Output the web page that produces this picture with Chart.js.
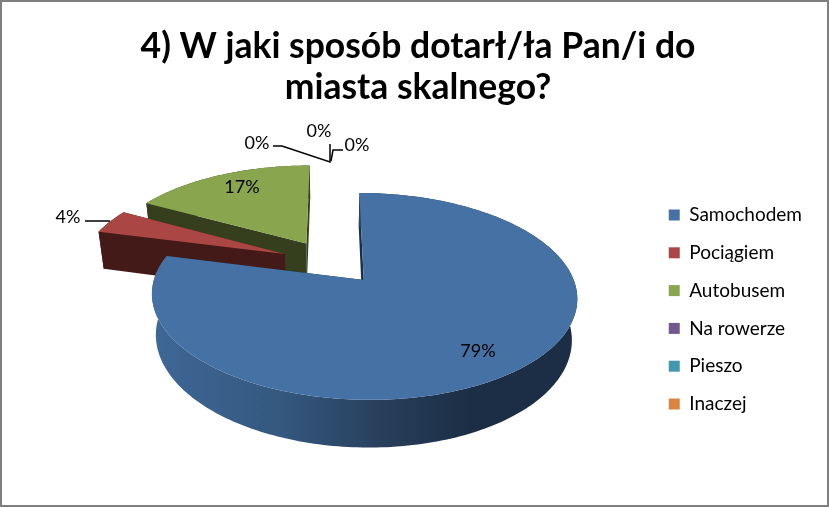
<!DOCTYPE html>
<html lang="pl">
<head>
    <meta charset="UTF-8">
    <title>4) W jaki sposób dotarł/ła Pan/i do miasta skalnego?</title>
    <style>
        html, body { margin: 0; padding: 0; background: #ffffff; overflow: hidden; }
        canvas { display: block; }
    </style>
</head>
<body>
    <canvas id="chartCanvas" width="829" height="507"></canvas>

    <script src="https://cdn.jsdelivr.net/npm/chart.js@4"></script>
    <script>
        const titleLines = ['4) W jaki sposób dotarł/ła Pan/i do', 'miasta skalnego?'];
        const categories = ['Samochodem', 'Pociągiem', 'Autobusem', 'Na rowerze', 'Pieszo', 'Inaczej'];
        const percents = [79, 4, 17, 0, 0, 0];

        const topColors = ['#4571a5', '#aa4643', '#89a54e', '#71588f', '#4198af', '#db843d'];
        const wallColors = ['#1b2e45', '#431a18', '#353f1e', '#2e2339', '#1a3d46', '#5a3518'];

        // where each percent label sits, same order as the data
        const labelAt = [[478, 351], [68, 217], [242, 187], [257, 143], [319, 131], [357, 145]];
        // leader lines for the small slices
        const leaders = [
            [[85, 221], [110, 221]],
            [[273, 146], [282, 146], [330, 162], [330, 144]],
            [[343, 150], [333, 150], [331, 161]]
        ];

        // tilted pie seen in perspective
        const view = { cx: 331.6, cy: 262, radius: 204, squash: 95.2, dist: 6.5, depth: 39, shrink: 0.978, explode: 0.25, explodeV: 0.233 };

        function project(u, v) {
            const f = view.dist / (view.dist - v);
            return { x: view.cx + u * view.radius * f, y: view.cy + v * view.squash * f, f: f };
        }

        function lower(p) {
            return { x: view.cx + (p.x - view.cx) * view.shrink, y: p.y + view.depth * p.f };
        }

        function tracePath(ctx, pts) {
            ctx.beginPath();
            pts.forEach((p, i) => i ? ctx.lineTo(p.x, p.y) : ctx.moveTo(p.x, p.y));
            ctx.closePath();
        }

        function drawSlice(ctx, arc, index) {
            const start = arc.startAngle + Math.PI / 2;
            const end = arc.endAngle + Math.PI / 2;
            const mid = (start + end) / 2;
            const ou = view.explode * Math.sin(mid);
            const ov = -view.explodeV * Math.cos(mid);

            const apex = project(ou, ov);
            const rim = [];
            const steps = Math.ceil((end - start) / 0.02);
            for (let i = 0; i <= steps; i++) {
                const a = start + (end - start) * i / steps;
                rim.push(project(ou + Math.sin(a), ov - Math.cos(a)));
            }
            const rimLow = rim.map(lower);
            const apexLow = lower(apex);

            // the two cut faces
            ctx.fillStyle = wallColors[index];
            tracePath(ctx, [apex, rim[0], rimLow[0], apexLow]);
            ctx.fill();
            tracePath(ctx, [apex, rim[steps], rimLow[steps], apexLow]);
            ctx.fill();

            // outer wall, lit from the left on the big slice
            const wall = ctx.createLinearGradient(155, 0, 470, 0);
            if (index === 0) {
                wall.addColorStop(0, '#3f6796');
                wall.addColorStop(0.4, '#34587f');
                wall.addColorStop(0.75, '#273d59');
                wall.addColorStop(1, '#1b2e45');
            } else {
                wall.addColorStop(0, wallColors[index]);
                wall.addColorStop(1, wallColors[index]);
            }
            ctx.fillStyle = wall;
            tracePath(ctx, rim.concat(rimLow.slice().reverse()));
            ctx.fill();

            ctx.fillStyle = topColors[index];
            tracePath(ctx, [apex].concat(rim));
            ctx.fill();
        }

        const pie3d = {
            id: 'pie3d',
            beforeDraw(chart) {
                const ctx = chart.ctx;
                ctx.save();
                ctx.strokeStyle = '#7f7f7f';
                ctx.lineWidth = 2;
                ctx.strokeRect(1, 1, chart.width - 2, chart.height - 2);
                ctx.restore();
            },
            beforeDatasetsDraw(chart) {
                const ctx = chart.ctx;
                const arcs = chart.getDatasetMeta(0).data;
                ctx.save();
                // back slices first, the big one sits in front
                for (let i = arcs.length - 1; i >= 0; i--) {
                    if (percents[i] > 0) drawSlice(ctx, arcs[i], i);
                }
                ctx.strokeStyle = '#000000';
                ctx.lineWidth = 1.5;
                leaders.forEach(line => {
                    ctx.beginPath();
                    line.forEach((p, i) => i ? ctx.lineTo(p[0], p[1]) : ctx.moveTo(p[0], p[1]));
                    ctx.stroke();
                });
                ctx.fillStyle = '#000000';
                ctx.font = '18px Lato';
                ctx.textAlign = 'center';
                ctx.textBaseline = 'middle';
                percents.forEach((p, i) => ctx.fillText(p + '%', labelAt[i][0], labelAt[i][1]));
                ctx.restore();
                return false;
            }
        };

        new Chart(document.getElementById('chartCanvas').getContext('2d'), {
            type: 'pie',
            data: {
                labels: categories,
                datasets: [{ data: percents, backgroundColor: topColors, borderWidth: 0 }]
            },
            options: {
                responsive: false,
                animation: false,
                layout: { padding: { top: 26, right: 17, bottom: 4, left: 24 } },
                plugins: {
                    title: {
                        display: true,
                        text: titleLines,
                        color: '#000000',
                        font: { family: 'Lato', size: 35.5, weight: 'bold', lineHeight: 1.155 },
                        padding: { top: 0, bottom: 8 }
                    },
                    legend: {
                        position: 'right',
                        fullSize: false,
                        labels: {
                            color: '#000000',
                            font: { family: 'Lato', size: 19 },
                            boxWidth: 11,
                            boxHeight: 11,
                            padding: 18.8
                        }
                    },
                    tooltip: { enabled: false }
                }
            },
            plugins: [pie3d]
        });
    </script>
</body>
</html>
